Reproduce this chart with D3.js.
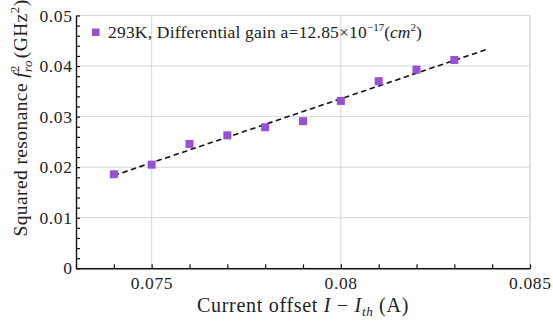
<!DOCTYPE html>
<html><head><meta charset="utf-8">
<script src="https://cdn.jsdelivr.net/npm/d3@7"></script>
<style>body{margin:0;background:#fff}svg{display:block}</style>
</head><body><svg id="c" width="553" height="324"></svg>
<script>
const currentOffset = [0.074,0.075,0.076,0.077,0.078,0.079,0.080,0.081,0.082,0.083];
const resonanceSq = [0.0186,0.0205,0.0246,0.0263,0.0279,0.0291,0.0331,0.0370,0.0393,0.0412];
const fitX = [0.0740,0.0839];
const fitY = [0.01835,0.0434];
const xTicks = [0.075,0.08,0.085];
const xTickLabels = ["0.075","0.08","0.085"];
const yTicks = [0,0.01,0.02,0.03,0.04,0.05];
const yTickLabels = ["0","0.01","0.02","0.03","0.04","0.05"];
const legendLabel = "293K, Differential gain a=12.85×10";

const FONT = "Liberation Serif";
const svg = d3.select("#c");
const root = svg.append("g").attr("font-family",FONT).attr("fill","#222");
const L=76,R=530,T=15.5,B=268.3;
const x = d3.scaleLinear().domain([0.073,0.085]).range([L,R]);
const y = d3.scaleLinear().domain([0,0.05]).range([B,T]);
const purple="#9a50d4";

// grid
root.append("g").selectAll("line").data(xTicks).join("line")
  .attr("x1",d=>x(d)).attr("x2",d=>x(d)).attr("y1",T).attr("y2",B)
  .attr("stroke","#d6d6d6").attr("stroke-width",1);
root.append("g").selectAll("line").data(yTicks).join("line")
  .attr("x1",L).attr("x2",R).attr("y1",d=>y(d)).attr("y2",d=>y(d))
  .attr("stroke","#d6d6d6").attr("stroke-width",1);
root.append("path").attr("d",`M${L},${T}H${R}V${B}`).attr("fill","none").attr("stroke","#d6d6d6");

// axes
const xAxis = d3.axisBottom(x).tickValues(d3.range(0.073,0.08501,0.001)).tickSizeInner(-4).tickSizeOuter(0).tickFormat("");
const gx = root.append("g").attr("transform",`translate(0,${B})`).call(xAxis);
gx.select(".domain").attr("stroke","#111").attr("stroke-width",1.4);
gx.selectAll(".tick line").attr("stroke","#111").attr("stroke-width",1.2);
root.append("g").selectAll("text").data(xTicks).join("text")
  .attr("font-family",FONT).attr("fill","#222").attr("letter-spacing",0.6)
  .attr("x",d=>x(d)+0.3).attr("y",289).attr("text-anchor","middle").attr("font-size",17.5)
  .text((d,i)=>xTickLabels[i]);

const yAxis = d3.axisLeft(y).tickValues(d3.range(0,0.05001,0.002)).tickSizeInner(-4).tickSizeOuter(0).tickFormat("");
const gy = root.append("g").attr("transform",`translate(${L},0)`).call(yAxis);
gy.select(".domain").attr("stroke","#111").attr("stroke-width",1.4);
gy.selectAll(".tick line").attr("stroke","#111").attr("stroke-width",1.2);
root.append("g").selectAll("text").data(yTicks).join("text")
  .attr("font-family",FONT).attr("fill","#222").attr("letter-spacing",0.6)
  .attr("x",72.5).attr("y",d=>y(d)+6).attr("text-anchor","end").attr("font-size",17.5)
  .text((d,i)=>yTickLabels[i]);

// fit line
root.append("path").datum(fitX.map((v,i)=>[v,fitY[i]]))
  .attr("d",d3.line().x(d=>x(d[0])).y(d=>y(d[1])))
  .attr("fill","none").attr("stroke","#111").attr("stroke-width",1.6).attr("stroke-dasharray","5.5,3.5");

// points
const s=8;
root.append("g").selectAll("rect").data(currentOffset).join("rect")
  .attr("x",(d)=>x(d)-s/2).attr("y",(d,i)=>y(resonanceSq[i])-s/2)
  .attr("width",s).attr("height",s).attr("fill",purple);

// legend
root.append("rect").attr("x",92).attr("y",28.5).attr("width",7.5).attr("height",7.5).attr("fill",purple);
const lt = root.append("text").attr("x",108).attr("y",38).attr("font-size",17.5);
lt.append("tspan").attr("letter-spacing",0.2).text(legendLabel);
lt.append("tspan").attr("dy",-7).attr("font-size",11).text("−17");
lt.append("tspan").attr("dy",7).text("(");
lt.append("tspan").attr("font-style","italic").text("cm");
lt.append("tspan").attr("dy",-7).attr("font-size",11).text("2");
lt.append("tspan").attr("dy",7).text(")");

// x title
const xt = root.append("text").attr("x",303).attr("y",312).attr("text-anchor","middle").attr("font-size",20).attr("letter-spacing",0.7);
xt.append("tspan").text("Current offset ");
xt.append("tspan").attr("font-style","italic").text("I");
xt.append("tspan").text("  −  ");
xt.append("tspan").attr("font-style","italic").text("I");
xt.append("tspan").attr("font-style","italic").attr("font-size",13).attr("dy",4).text("th");
xt.append("tspan").attr("dy",-4).text("  (A)");

// y title
const yt = root.append("text").attr("transform","translate(27,118) rotate(-90)").attr("text-anchor","middle").attr("font-size",19.5).attr("letter-spacing",0.4);
yt.append("tspan").text("Squared resonance ");
yt.append("tspan").attr("font-style","italic").text("f");
yt.append("tspan").attr("font-size",13).attr("dy",-8).text("2");
yt.append("tspan").attr("font-style","italic").attr("font-size",13).attr("dx",-7).attr("dy",13).text("ro");
yt.append("tspan").attr("dy",-5).attr("dx",2).text("(GHz");
yt.append("tspan").attr("font-size",13).attr("dy",-8).text("2");
yt.append("tspan").attr("dy",8).text(")");
</script></body></html>
